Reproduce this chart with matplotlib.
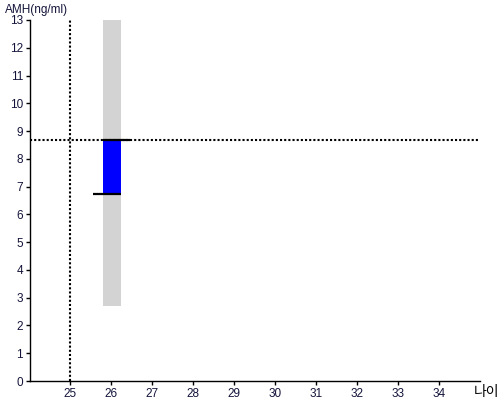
import matplotlib
matplotlib.use("Agg")
import matplotlib.pyplot as plt
from matplotlib.patches import Rectangle

plt.rcParams['font.family'] = ['Liberation Sans', 'Noto Sans CJK KR', 'DejaVu Sans']

# data
age = 26
amh_range_low = 2.7
amh_range_high = 13.0
amh_low = 6.72
amh_high = 8.68
ref_age = 25
ref_amh = 8.68
x_ticks = [25, 26, 27, 28, 29, 30, 31, 32, 33, 34]
y_ticks = list(range(0, 14))

fig = plt.figure(figsize=(5, 4), dpi=100)
ax = fig.add_axes([0.06, 0.0475, 0.90, 0.9025])
ax.set_xlim(24.02, 35.0)
ax.set_ylim(0, 13)

half_w = 0.21
ax.add_patch(Rectangle((age - half_w + 0.02, amh_range_low), 2 * half_w,
                       amh_range_high - amh_range_low, color='#d3d3d3', lw=0, zorder=1))
ax.add_patch(Rectangle((age - half_w + 0.02, amh_low), 2 * half_w,
                       amh_high - amh_low, color='#0000ff', lw=0, zorder=2))
ax.plot([age - 0.45, age + 0.23], [amh_low, amh_low], color='black', lw=1.6,
        solid_capstyle='butt', zorder=3)
ax.plot([age - 0.19, age + 0.47], [amh_high, amh_high], color='black', lw=1.6,
        solid_capstyle='butt', zorder=3)

ax.axhline(ref_amh, color='black', lw=1.5, linestyle=(0, (1, 1)), zorder=4)
ax.axvline(ref_age, color='black', lw=1.5, linestyle=(0, (1, 1)), zorder=4)

ax.set_xticks(x_ticks)
ax.set_yticks(y_ticks)
ax.tick_params(axis='both', length=3, width=1, labelsize=8.5, colors='black',
               labelcolor='#14143a', pad=2)
for s in ['top', 'right']:
    ax.spines[s].set_visible(False)
for s in ['left', 'bottom']:
    ax.spines[s].set_linewidth(1)

fig.text(0.01, 0.975, 'AMH(ng/ml)', fontsize=8.5, color='#14143a',
         ha='left', va='center')
fig.text(0.998, 0.02, '나이', fontsize=10, color='black', ha='right', va='center')

fig.savefig('out.png', dpi=100)
